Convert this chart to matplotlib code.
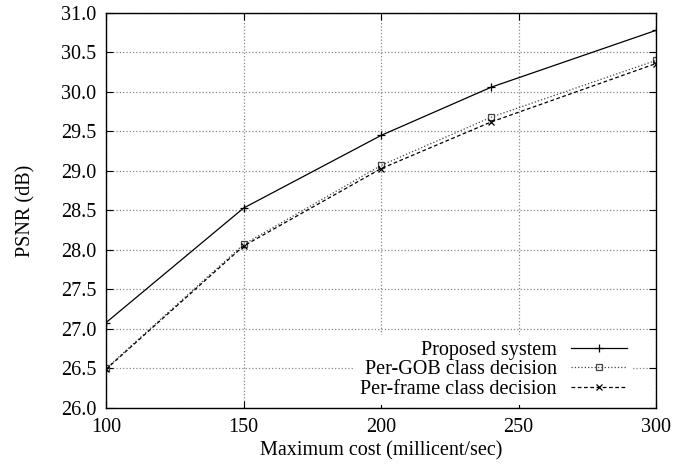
import matplotlib
matplotlib.use("Agg")
import matplotlib.pyplot as plt

# data
cost = [100, 150, 200, 240, 300]
psnr_proposed = [27.08, 28.53, 29.45, 30.06, 30.78]
psnr_gob = [26.50, 28.07, 29.07, 29.68, 30.40]
psnr_frame = [26.49, 28.05, 29.03, 29.62, 30.36]

x_ticks = [100, 150, 200, 250, 300]
y_ticks = [26.0, 26.5, 27.0, 27.5, 28.0, 28.5, 29.0, 29.5, 30.0, 30.5, 31.0]

plt.rcParams["font.family"] = ["Liberation Serif", "DejaVu Serif"]
plt.rcParams["font.size"] = 14.5

fig = plt.figure(figsize=(6.73, 4.72), dpi=100)
ax = fig.add_axes([0.1575, 0.1356, 0.8175, 0.837])

ax.plot(cost, psnr_proposed, color="black", lw=0.9, ls="-",
        marker="+", ms=6, mew=0.9, label="Proposed system")
ax.plot(cost, psnr_gob, color="#444444", lw=0.9, ls=":",
        marker="s", ms=5, mfc="none", mew=0.9, label="Per-GOB class decision")
ax.plot(cost, psnr_frame, color="black", lw=0.9, ls=(0, (3, 2)),
        marker="x", ms=5, mew=0.9, label="Per-frame class decision")

ax.set_xlim(100, 300)
ax.set_ylim(26.0, 31.0)
ax.set_xticks(x_ticks)
ax.set_yticks(y_ticks)
ax.set_yticklabels([f"{v:.1f}" for v in y_ticks])
ax.tick_params(direction="in", top=True, right=True, length=5, width=0.8, pad=7)
ax.grid(True, color="#888888", ls=":", lw=0.9)

for s in ax.spines.values():
    s.set_linewidth(1.0)

ax.set_xlabel("Maximum cost (millicent/sec)", labelpad=3)
ax.set_ylabel("PSNR (dB)", labelpad=18)

leg = ax.legend(loc="lower right", bbox_to_anchor=(0.958, 0.008),
                markerfirst=False, frameon=True, fancybox=False,
                handlelength=2.8, borderpad=0.3, labelspacing=0.02,
                handletextpad=0.7, borderaxespad=0.0)
leg.get_frame().set_edgecolor("none")
leg.get_frame().set_facecolor("white")
leg.get_frame().set_alpha(1.0)
for t in leg.get_texts():
    t.set_ha("right")
leg._legend_box.align = "right"

fig.savefig("out.png", dpi=100)
